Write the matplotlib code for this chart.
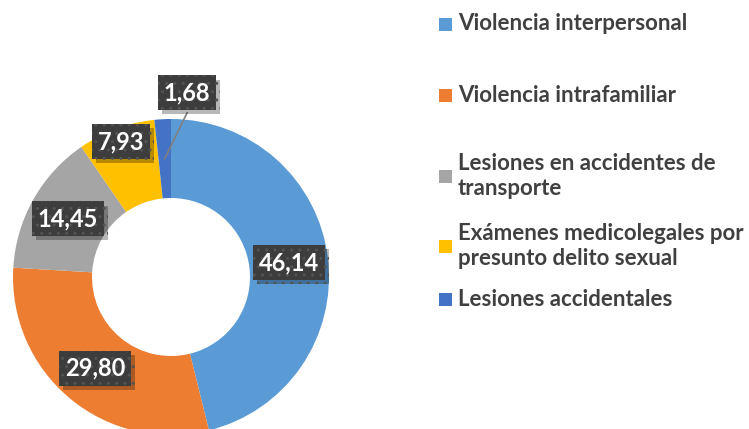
import numpy as np
import matplotlib
matplotlib.use("Agg")
import matplotlib.pyplot as plt
import matplotlib.patches as mpatches
import matplotlib.patheffects as pe

categories = ["Violencia interpersonal", "Violencia intrafamiliar",
              "Lesiones en accidentes de\ntransporte",
              "Exámenes medicolegales por\npresunto delito sexual",
              "Lesiones accidentales"]
values = [46.14, 29.80, 14.45, 7.93, 1.68]
value_labels = ["46,14", "29,80", "14,45", "7,93", "1,68"]
colors = ["#5B9BD5", "#ED7D31", "#A5A5A5", "#FFC000", "#4472C4"]

W, H = 749, 429
fig = plt.figure(figsize=(W / 100, H / 100), dpi=100, facecolor="white")
ax = fig.add_axes([0, 0, 1, 1])

cx, cy = 171, H - 277
R = 158
ring = 79

wedges, _ = ax.pie(values, colors=colors, startangle=90, counterclock=False,
                   center=(cx, cy), radius=R, frame=True,
                   wedgeprops=dict(width=ring, linewidth=0))
ax.set_xlim(0, W)
ax.set_ylim(0, H)
ax.axis("off")

font = "Lato"
box = dict(boxstyle="square,pad=0.25", fc="#3d3d3d", ec="#535353", lw=0, hatch="..")

# label placement: (radius factor of mid ring, angle shift in degrees)
place = [(1.0, 0), (1.0, 0), (1.0, 0), (1.22, 0), (1.56, -8)]
mid_r = R - ring / 2
for w, lab, (rf, da) in zip(wedges, value_labels, place):
    ang = np.deg2rad((w.theta1 + w.theta2) / 2)
    px, py = cx + mid_r * np.cos(ang), cy + mid_r * np.sin(ang)
    a2 = ang + np.deg2rad(da)
    tx, ty = cx + mid_r * rf * np.cos(a2), cy + mid_r * rf * np.sin(a2)
    if rf > 1.4:
        ax.plot([px, tx], [py, ty - 20], color="#7f7f7f", lw=1.2, zorder=3)
    t = ax.text(tx, ty, lab, ha="center", va="center", color="white",
                fontsize=17, fontweight="bold", family=font, bbox=box, zorder=4)
    t.get_bbox_patch().set_path_effects(
        [pe.SimplePatchShadow(offset=(3, -3), shadow_rgbFace="black", alpha=0.28), pe.Normal()])

# legend
leg_y = [24, 95, 176, 246, 299]
for lab, col, y in zip(categories, colors, leg_y):
    ax.add_patch(mpatches.Rectangle((439, H - y - 6.5), 13, 13, color=col, lw=0))
    ax.text(458, H - y, lab, ha="left", va="center", color="#404040",
            fontsize=16, fontweight="bold", family=font, linespacing=1.2)

fig.savefig("out.png", dpi=100, facecolor="white")
